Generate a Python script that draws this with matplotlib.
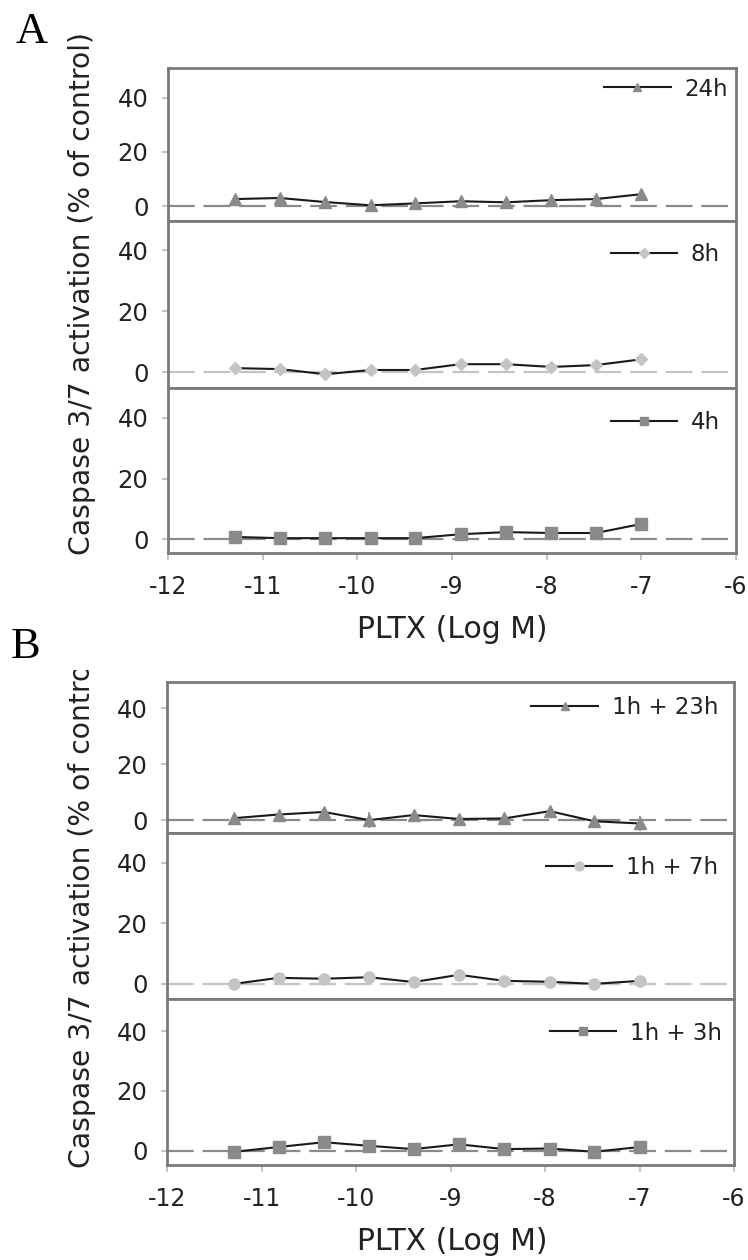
import matplotlib
matplotlib.use("Agg")
import matplotlib.pyplot as plt
from matplotlib.transforms import Bbox, TransformedBbox

plt.rcParams['font.family'] = ['DejaVu Sans']

# log concentration of PLTX
x = [-11.29, -10.82, -10.34, -9.86, -9.39, -8.91, -8.43, -7.95, -7.48, -7.0]

# panel A, continuous exposure
a24 = [2.6, 3.0, 1.5, 0.3, 1.0, 1.8, 1.4, 2.2, 2.6, 4.4]
a24_err = [0.5, 0.5, 0.5, 0.6, 0.5, 0.5, 0.4, 0.5, 0.6, 0.8]
a8 = [1.3, 1.0, -0.7, 0.7, 0.7, 2.6, 2.6, 1.7, 2.3, 4.2]
a8_err = [0.6, 0.5, 0.8, 0.5, 0.4, 0.5, 0.5, 0.4, 0.5, 0.8]
a4 = [0.7, 0.3, 0.3, 0.3, 0.3, 1.6, 2.3, 2.0, 2.0, 5.0]
a4_err = [0.4, 0.4, 0.3, 0.3, 0.3, 0.5, 0.5, 0.4, 0.4, 0.6]

# panel B, 1h exposure + recovery
b23 = [0.7, 2.0, 2.9, 0.0, 1.8, 0.4, 0.6, 3.2, -0.4, -1.2]
b23_err = [0.5, 0.6, 0.7, 2.8, 0.6, 0.5, 0.5, 0.7, 0.6, 2.8]
b7 = [0.0, 2.0, 1.7, 2.2, 0.6, 3.0, 1.0, 0.7, 0.0, 1.0]
b7_err = [0.5, 0.5, 0.5, 0.6, 0.4, 0.6, 0.4, 0.5, 0.4, 0.5]
b3 = [-0.3, 1.3, 2.9, 1.7, 0.6, 2.2, 0.6, 0.8, -0.3, 1.3]
b3_err = [0.5, 0.5, 0.6, 0.5, 0.4, 0.5, 0.4, 0.4, 0.5, 0.5]

W, H = 748, 1260
fig = plt.figure(figsize=(W / 100, H / 100), dpi=100)

dark = '#8a8a8a'
light = '#c4c4c4'
spine_c = '#7a7a7a'
txt_c = '#222222'

# (top, bottom, left, right, legend x, legend y) in px, ylim, data, label, marker, colour
panels = [
    (68, 221, 168, 736, 728, 89, (-5.5, 51), a24, a24_err, '24h', '^', dark),
    (221, 388, 168, 736, 720, 255, (-5.2, 49.5), a8, a8_err, '8h', 'D', light),
    (388, 553, 168, 736, 720, 423, (-4.6, 49.9), a4, a4_err, '4h', 's', dark),
    (682, 833, 167, 734, 718, 708, (-4.6, 49.3), b23, b23_err, '1h + 23h', '^', dark),
    (833, 999, 167, 734, 718, 868, (-5.0, 49.9), b7, b7_err, '1h + 7h', 'o', light),
    (999, 1165, 167, 734, 722, 1033, (-4.7, 50.7), b3, b3_err, '1h + 3h', 's', dark),
]

for i, (top, bot, left, right, lx, ly, yl, y, err, lab, mk, col) in enumerate(panels):
    ax = fig.add_axes([left / W, 1 - bot / H, (right - left) / W, (bot - top) / H])
    ax.axhline(0, color=col, lw=1.6, dashes=(12, 4), zorder=1)
    ax.errorbar(x, y, yerr=err, fmt='none', ecolor=col, elinewidth=1.2, capsize=0, zorder=2)
    ax.plot(x, y, color='#1a1a1a', lw=1.5, marker=mk, ms=8 if mk != 'D' else 6.5,
            mfc=col, mec=col, label=lab, zorder=3)
    ax.set_xlim(-12, -6)
    ax.set_ylim(*yl)
    ax.set_yticks([0, 20, 40])
    for s in ax.spines.values():
        s.set_color(spine_c)
        s.set_linewidth(2)
    ax.tick_params(axis='y', length=4, width=1.2, color='#bbbbbb', pad=10, labelsize=17.5,
                   labelcolor=txt_c)
    if i in (2, 5):
        ax.set_xticks([-12, -11, -10, -9, -8, -7, -6])
        ax.set_xticklabels(['-12', '-11', '-10', '-9', '-8', '-7', '-6'])
        ax.tick_params(axis='x', length=5, width=1.2, color='#bbbbbb', pad=11, labelsize=17,
                       labelcolor=txt_c)
    else:
        ax.set_xticks([])
    ax.legend(loc='center right', bbox_to_anchor=(lx / W, 1 - ly / H),
              bbox_transform=fig.transFigure, frameon=False, fontsize=16.5,
              handlelength=2.9, handletextpad=0.6, borderpad=0, borderaxespad=0,
              markerscale=0.8, labelcolor=txt_c)

ylab = 'Caspase 3/7 activation (% of control)'
fig.text(82 / W, 1 - 293 / H, ylab, rotation=90, ha='center', va='center', fontsize=20.3,
         color=txt_c)
tb = fig.text(82 / W, 1 - 906 / H, ylab, rotation=90, ha='center', va='center', fontsize=20.3,
              color=txt_c)
tb.set_clip_box(TransformedBbox(Bbox([[0, 0], [1, 1 - 670 / H]]), fig.transFigure))
tb.set_clip_on(True)

fig.text(452 / W, 1 - 630 / H, 'PLTX (Log M)', ha='center', va='center', fontsize=21.5,
         color=txt_c)
fig.text(452 / W, 1 - 1242 / H, 'PLTX (Log M)', ha='center', va='center', fontsize=21.5,
         color=txt_c)

fig.text(32 / W, 1 - 32 / H, 'A', ha='center', va='center', fontsize=32,
         family='Liberation Serif')
fig.text(26 / W, 1 - 647 / H, 'B', ha='center', va='center', fontsize=32,
         family='Liberation Serif')

fig.savefig('out.png', dpi=100)
